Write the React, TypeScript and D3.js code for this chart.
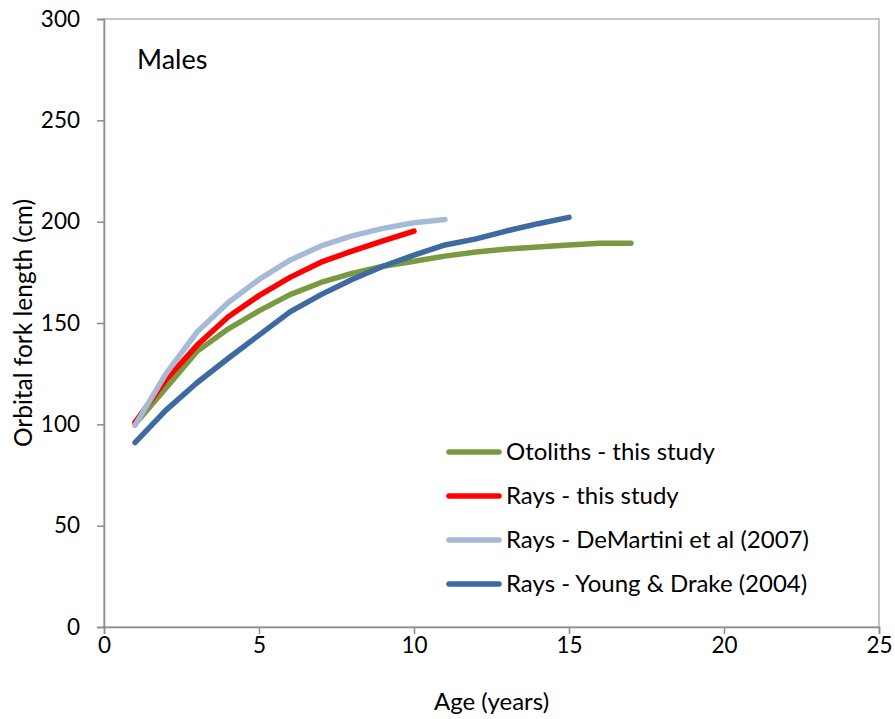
import React, { useEffect, useRef } from "react";
import * as d3 from "d3";

// ages (years) and mean orbital fork length (cm) for each growth curve
const otolithAges = [1, 2, 3, 4, 5, 6, 7, 8, 9, 10, 11, 12, 13, 14, 15, 16, 17];
const otolithLengths = [100, 118, 136, 147, 156, 164, 170, 174.5, 178, 180.5, 183, 185, 186.5, 187.5, 188.5, 189.3, 189.3];

const raysAges = [1, 2, 3, 4, 5, 6, 7, 8, 9, 10];
const raysLengths = [101, 122, 139, 153, 163.5, 172.5, 180, 185.5, 190.5, 195.3];

const deMartiniAges = [1, 2, 3, 4, 5, 6, 7, 8, 9, 10, 11];
const deMartiniLengths = [99.5, 125, 145.5, 160, 171.5, 181, 188, 193, 196.7, 199.5, 201.1];

const youngDrakeAges = [1, 2, 3, 4, 5, 6, 7, 8, 9, 10, 11, 12, 13, 14, 15];
const youngDrakeLengths = [91, 107, 120.5, 132.5, 144, 155.5, 164, 171.5, 178, 183.5, 188.5, 191.5, 195.5, 199, 202.1];

const seriesNames = [
  "Otoliths - this study",
  "Rays - this study",
  "Rays - DeMartini et al (2007)",
  "Rays - Young & Drake (2004)",
];

const xTicks = [0, 5, 10, 15, 20, 25];
const yTicks = [0, 50, 100, 150, 200, 250, 300];

const W = 895;
const H = 719;
const FONT = "Lato, 'Open Sans', sans-serif";

export default function App() {
  const ref = useRef<SVGSVGElement>(null);

  useEffect(() => {
    const svg = d3.select(ref.current);
    svg.selectAll("*").remove();

    const margin = { top: 19, right: 16, bottom: 92, left: 104 };
    const x = d3.scaleLinear().domain([0, 25]).range([margin.left, W - margin.right]);
    const y = d3.scaleLinear().domain([0, 300]).range([H - margin.bottom, margin.top]);

    const series = [
      { name: seriesNames[0], ages: otolithAges, vals: otolithLengths, color: "#7a9a41" },
      { name: seriesNames[1], ages: raysAges, vals: raysLengths, color: "#ff0000" },
      { name: seriesNames[2], ages: deMartiniAges, vals: deMartiniLengths, color: "#a6b9d7" },
      { name: seriesNames[3], ages: youngDrakeAges, vals: youngDrakeLengths, color: "#3d6aa1" },
    ];

    // plot area border
    svg.append("rect")
      .attr("x", x(0))
      .attr("y", y(300))
      .attr("width", x(25) - x(0))
      .attr("height", y(0) - y(300))
      .attr("fill", "none")
      .attr("stroke", "#8c8c8c")
      .attr("stroke-width", 1);

    // axes
    const xAxis = svg.append("g")
      .attr("transform", `translate(0,${y(0)})`)
      .call(d3.axisBottom(x).tickValues(xTicks).tickSize(7).tickPadding(3));
    const yAxis = svg.append("g")
      .attr("transform", `translate(${x(0)},0)`)
      .call(d3.axisLeft(y).tickValues(yTicks).tickSize(7).tickPadding(17));

    [xAxis, yAxis].forEach((g) => {
      g.select(".domain").attr("stroke", "#8c8c8c").attr("stroke-width", 1.5);
      g.selectAll(".tick line").attr("stroke", "#8c8c8c").attr("stroke-width", 1.5);
      g.selectAll(".tick text")
        .attr("fill", "#000")
        .style("font-family", FONT)
        .style("font-size", "22.5px");
    });

    // curves
    const line = d3.line<[number, number]>()
      .x((d) => x(d[0]))
      .y((d) => y(d[1]));

    series.forEach((s) => {
      svg.append("path")
        .datum(s.ages.map((a, i) => [a, s.vals[i]] as [number, number]))
        .attr("d", line)
        .attr("fill", "none")
        .attr("stroke", s.color)
        .attr("stroke-width", 5.5)
        .attr("stroke-linecap", "round")
        .attr("stroke-linejoin", "round");
    });

    // legend
    const legend = svg.append("g").attr("transform", "translate(447,452)");
    series.forEach((s, i) => {
      const row = legend.append("g").attr("transform", `translate(0,${i * 44})`);
      row.append("line")
        .attr("x1", 2).attr("x2", 52)
        .attr("stroke", s.color)
        .attr("stroke-width", 5.5)
        .attr("stroke-linecap", "round");
      row.append("text")
        .attr("x", 59)
        .attr("dy", "0.35em")
        .style("font-family", FONT)
        .style("font-size", "24px")
        .text(s.name);
    });

    // labels
    svg.append("text")
      .attr("x", 137)
      .attr("y", 69)
      .style("font-family", FONT)
      .style("font-size", "27px")
      .text("Males");

    svg.append("text")
      .attr("x", (x(0) + x(25)) / 2)
      .attr("y", 710)
      .attr("text-anchor", "middle")
      .style("font-family", FONT)
      .style("font-size", "24px")
      .text("Age (years)");

    svg.append("text")
      .attr("transform", `translate(32,${(y(0) + y(300)) / 2}) rotate(-90)`)
      .attr("text-anchor", "middle")
      .style("font-family", FONT)
      .style("font-size", "24.5px")
      .text("Orbital fork length (cm)");
  }, []);

  return (
    <svg
      ref={ref}
      width={W}
      height={H}
      style={{ position: "absolute", left: 0, top: 0, background: "#fff" }}
    />
  );
}
